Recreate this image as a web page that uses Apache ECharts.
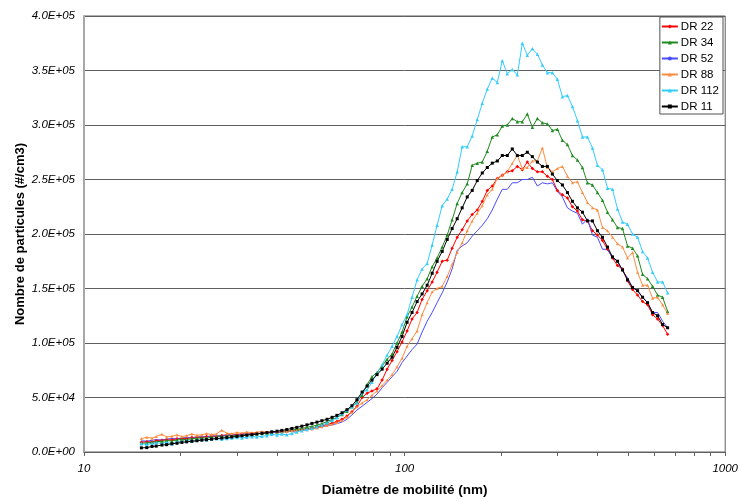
<!DOCTYPE html>
<html>
<head>
<meta charset="utf-8">
<script src="https://cdn.jsdelivr.net/npm/echarts@6/dist/echarts.min.js"></script>
<style>
  html, body { margin: 0; padding: 0; background: #fff; }
  #chart { width: 741px; height: 502px; }
</style>
</head>
<body>
<div id="chart"></div>
<script>
// Diamètres de mobilité (nm), canaux SMPS
const diametres = [15.1, 15.7, 16.3, 16.8, 17.5, 18.1, 18.8, 19.5, 20.2, 20.9,
  21.7, 22.5, 23.3, 24.1, 25.0, 25.9, 26.9, 27.9, 28.9, 30.0,
  31.1, 32.2, 33.4, 34.6, 35.9, 37.2, 38.5, 40.0, 41.4, 42.9,
  44.5, 46.1, 47.8, 49.6, 51.4, 53.3, 55.2, 57.3, 59.4, 61.5,
  63.8, 66.1, 68.5, 71.0, 73.7, 76.4, 79.1, 82.0, 85.1, 88.2,
  91.4, 94.7, 98.2, 101.8, 105.5, 109.4, 113.4, 117.6, 121.9, 126.3,
  131.0, 135.8, 140.7, 145.9, 151.2, 156.8, 162.5, 168.5, 174.7, 181.1,
  187.7, 194.6, 201.7, 209.1, 216.7, 224.7, 232.9, 241.4, 250.3, 259.5,
  269.0, 278.8, 289.0, 299.6, 310.6, 322.0, 333.8, 346.0, 358.7, 371.8,
  385.4, 399.5, 414.2, 429.4, 445.1, 461.4, 478.3, 495.8, 514.0, 532.8,
  552.3, 572.5, 593.5, 615.3, 637.8, 661.2]

// Nombre de particules (#/cm3)
const dr22 = [9000, 9500, 9200, 10400, 10800, 11300, 11000, 12100, 12500, 12200,
  13200, 13600, 13300, 14200, 14600, 14300, 15200, 15600, 15400, 16100,
  16500, 16300, 16900, 17200, 17000, 17600, 18000, 18300, 18500, 18900,
  19500, 19900, 20600, 21300, 22000, 22900, 24000, 25200, 26500, 28000,
  30000, 33000, 37000, 42000, 50000, 54000, 56000, 58000, 66000, 76000,
  84000, 92000, 101000, 111000, 122000, 128000, 140000, 148000, 156000, 165000,
  175000, 176000, 187000, 197000, 204000, 212000, 218000, 222000, 230000, 240000,
  244000, 251000, 254000, 257000, 258000, 262000, 259000, 266000, 260000, 257000,
  257000, 253000, 250000, 240000, 236000, 233000, 225000, 221000, 213000, 212000,
  203000, 199000, 194000, 186000, 178000, 171000, 168000, 157000, 149000, 144000,
  138000, 135000, 126000, 122000, 116000, 108000]

const dr34 = [8100, 8400, 8900, 9500, 9800, 10500, 10200, 11000, 11600, 11400,
  12200, 12600, 13000, 12800, 13600, 14100, 14500, 14900, 15300, 15200,
  15800, 16200, 16000, 16700, 17100, 17400, 17900, 18300, 18800, 19300,
  20100, 20800, 21600, 22600, 23500, 24700, 26000, 28000, 29800, 31800,
  34500, 37500, 41500, 46000, 52000, 62000, 69000, 73000, 79000, 85000,
  90000, 100000, 110000, 124000, 133000, 143000, 152000, 159000, 170000, 178000,
  188000, 199000, 213000, 228000, 238000, 246000, 263000, 265000, 266000, 276000,
  289000, 291000, 299000, 300000, 306000, 303000, 303000, 310000, 298000, 306000,
  302000, 301000, 295000, 296000, 286000, 282000, 272000, 268000, 261000, 247000,
  245000, 238000, 231000, 220000, 213000, 206000, 205000, 189000, 187000, 180000,
  163000, 159000, 152000, 144000, 142000, 129000]

const dr52 = [10200, 10000, 10800, 11400, 11000, 11900, 12400, 12100, 12900, 13300,
  13100, 13800, 14200, 13900, 14600, 15000, 14800, 15400, 15800, 15600,
  16200, 16500, 16400, 16900, 17300, 17500, 17900, 18100, 18400, 18600,
  19000, 19400, 19900, 20500, 21200, 22000, 23000, 24000, 25000, 26000,
  27500, 30000, 34000, 38500, 42000, 45500, 49000, 53000, 59000, 64000,
  69000, 74000, 82000, 88000, 94000, 99000, 110000, 120000, 128000, 137000,
  146000, 156000, 168000, 185000, 189000, 192000, 198000, 203000, 208000, 214000,
  222000, 232000, 241000, 241000, 247000, 247000, 250000, 250000, 252000, 244000,
  247000, 246000, 247000, 239000, 234000, 224000, 221000, 219000, 209000, 214000,
  199000, 197000, 186000, 186000, 178000, 175000, 166000, 160000, 151000, 148000,
  142000, 137000, 128000, 128000, 120000, 114000]

const dr88 = [12300, 13500, 12600, 14200, 16300, 13800, 14500, 15600, 14200, 15000,
  16400, 15300, 15800, 16900, 16000, 16600, 20000, 17200, 16800, 17800,
  17200, 18400, 17600, 18200, 18800, 18300, 19000, 18600, 19200, 18900,
  19400, 19600, 20100, 20500, 21200, 22000, 23100, 24200, 25500, 27000,
  29000, 32000, 36500, 41500, 45000, 48000, 52000, 56000, 61000, 66000,
  71000, 78000, 86000, 97000, 104000, 111000, 126000, 137000, 147000, 150000,
  152000, 161000, 172000, 183000, 192000, 203000, 212000, 219000, 226000, 236000,
  241000, 251000, 254000, 257000, 265000, 272000, 260000, 261000, 267000, 267000,
  279000, 261000, 257000, 260000, 262000, 253000, 247000, 248000, 238000, 229000,
  224000, 222000, 206000, 203000, 197000, 191000, 188000, 178000, 183000, 165000,
  153000, 153000, 141000, 142000, 135000, 127000]

const dr112 = [7500, 7000, 8000, 8600, 7900, 8900, 7400, 9200, 9800, 10300,
  10000, 10800, 11400, 10900, 11800, 12300, 11600, 12300, 12800, 13200,
  12900, 13600, 14100, 13800, 14500, 15000, 16200, 15600, 16400, 15900,
  17000, 18400, 19600, 20700, 21900, 23200, 24800, 26500, 29000, 31500,
  35000, 38500, 41500, 45000, 55000, 57000, 64000, 72000, 80000, 89000,
  97000, 106000, 117000, 126000, 142000, 158000, 168000, 173000, 190000, 208000,
  226000, 232000, 241000, 257000, 280000, 280000, 290000, 305000, 320000, 333000,
  343000, 339000, 359000, 347000, 351000, 346000, 375000, 364000, 370000, 365000,
  355000, 348000, 348000, 342000, 326000, 327000, 317000, 304000, 289000, 289000,
  279000, 263000, 259000, 242000, 241000, 223000, 211000, 209000, 200000, 197000,
  184000, 178000, 165000, 156000, 156000, 146000]

const dr11 = [3800, 4000, 5100, 5400, 6400, 6700, 7600, 8000, 8800, 9300,
  9800, 10300, 10900, 11300, 11800, 12300, 12800, 13200, 13800, 14300,
  14900, 15400, 15900, 16500, 17200, 17800, 18500, 19100, 19800, 20600,
  21600, 22600, 23700, 24900, 26200, 27400, 28700, 30000, 31800, 33600,
  36000, 38800, 42500, 48000, 55000, 60500, 66000, 71000, 76000, 81500,
  87000, 96000, 106000, 119000, 128000, 138000, 145000, 153000, 164000, 175000,
  184000, 195000, 205000, 214000, 224000, 234000, 240000, 249000, 256000, 261000,
  265000, 267000, 272000, 272000, 278000, 272000, 272000, 275000, 271000, 266000,
  262000, 262000, 255000, 249000, 245000, 238000, 230000, 224000, 220000, 212000,
  212000, 203000, 197000, 188000, 179000, 175000, 167000, 158000, 151000, 148000,
  142000, 137000, 128000, 125000, 117000, 114000]

const noms = ['DR 22', 'DR 34', 'DR 52', 'DR 88', 'DR 112', 'DR 11']
const valeurs = [dr22, dr34, dr52, dr88, dr112, dr11]
const couleurs = ['#ff0000', '#1f8a1f', '#4a4aff', '#ff8c40', '#33ccff', '#000000']
const symboles = ['diamond', 'triangle', 'none', 'triangle', 'triangle', 'rect']
const tailles = [3.5, 3.5, 0, 3, 3.5, 3]

const xTicks = [10, 20, 30, 40, 50, 60, 70, 80, 90, 100, 200, 300, 400, 500, 600, 700, 800, 900, 1000]
const xLabels = [10, 100, 1000]

const police = '"Liberation Sans", Arial, sans-serif'

const formatSci = (v) => {
    if (v === 0) return '0.0E+00'
    const e = Math.floor(Math.log10(v) + 1e-9)
    const m = v / Math.pow(10, e)
    return m.toFixed(1) + 'E+' + String(e).padStart(2, '0')
}

const myChart = echarts.init(document.getElementById('chart'), null, { renderer: 'canvas' })

myChart.setOption({
    animation: false,
    backgroundColor: '#fff',
    textStyle: { fontFamily: police },
    grid: {
        left: 84, right: 12, top: 16, bottom: 46,
        show: true, borderColor: '#606060', borderWidth: 1
    },
    legend: {
        orient: 'vertical',
        right: 18, top: 17,
        data: noms,
        backgroundColor: '#fff',
        borderColor: '#505050',
        borderWidth: 1,
        padding: [2, 4, 0, 1],
        itemWidth: 16,
        itemHeight: 5,
        itemGap: 1,
        textStyle: { fontSize: 11.5, lineHeight: 15, color: '#000', fontFamily: police, padding: [0, 0, 0, -2] }
    },
    xAxis: {
        type: 'log',
        logBase: 10,
        min: 10,
        max: 1000,
        name: 'Diamètre de mobilité (nm)',
        nameLocation: 'middle',
        nameGap: 31,
        nameMoveOverlap: false,
        nameTextStyle: { fontSize: 13.5, fontWeight: 'bold', color: '#000', fontFamily: police },
        axisLine: { lineStyle: { color: '#606060', width: 1 } },
        axisTick: { show: true, customValues: xTicks, length: 4, lineStyle: { color: '#606060' } },
        axisLabel: {
            customValues: xLabels, margin: 11,
            formatter: (v) => String(Math.round(v)),
            fontSize: 11.5, fontStyle: 'italic', color: '#000', fontFamily: police
        },
        splitLine: { show: false },
        minorTick: { show: false }
    },
    yAxis: {
        type: 'value',
        min: 0,
        max: 400000,
        interval: 50000,
        name: 'Nombre de particules (#/cm3)',
        nameLocation: 'middle',
        nameGap: 57,
        nameMoveOverlap: false,
        nameTextStyle: { fontSize: 13, fontWeight: 'bold', color: '#000', fontFamily: police },
        axisLine: { show: true, lineStyle: { color: '#a8a8a8', width: 2 } },
        axisTick: { show: false },
        axisLabel: {
            formatter: formatSci, margin: 9,
            fontSize: 11.5, fontStyle: 'italic', color: '#000', fontFamily: police
        },
        splitLine: { show: true, lineStyle: { color: '#606060', width: 1 } }
    },
    series: noms.map((nom, k) => ({
        name: nom,
        type: 'line',
        data: diametres.map((d, i) => [d, valeurs[k][i]]),
        symbol: symboles[k],
        symbolSize: tailles[k],
        showSymbol: symboles[k] !== 'none',
        lineStyle: { color: couleurs[k], width: 1 },
        itemStyle: { color: couleurs[k] },
        emphasis: { disabled: true }
    }))
})
</script>
</body>
</html>
